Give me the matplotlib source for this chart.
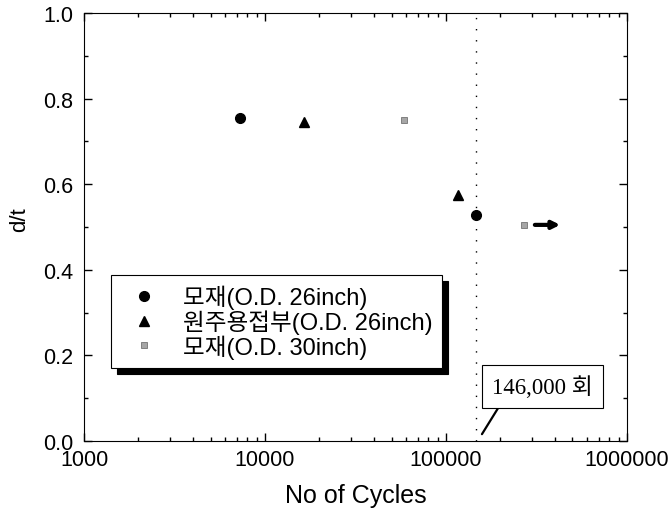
import matplotlib
matplotlib.use("Agg")
import matplotlib.pyplot as plt
from matplotlib.ticker import FixedLocator, MultipleLocator, LogLocator, NullFormatter
import numpy as np

plt.rcParams['font.family'] = ['Liberation Sans', 'Noto Sans CJK KR']

# data
base26_x = [7300, 146000]
base26_y = [0.755, 0.528]
weld26_x = [16500, 116000]
weld26_y = [0.745, 0.575]
base30_x = [58600, 270000]
base30_y = [0.750, 0.505]
labels = ['모재(O.D. 26inch)', '원주용접부(O.D. 26inch)', '모재(O.D. 30inch)']
limit_cycles = 146000
arrow_from = 299000
arrow_to = 443000

fig = plt.figure(figsize=(6.71, 5.10), dpi=100)
ax = fig.add_axes([0.1252, 0.1333, 0.8092, 0.8392])

ax.plot(base26_x, base26_y, 'o', color='black', ms=7, label=labels[0], linestyle='none')
ax.plot(weld26_x, weld26_y, '^', color='black', ms=7.5, label=labels[1], linestyle='none')
ax.plot(base30_x, base30_y, 's', color='0.65', ms=4.5, mec='0.45', mew=0.6, label=labels[2], linestyle='none')

ax.axvline(limit_cycles, color='black', lw=1, ls=(0, (1, 7)))
ax.annotate('', xy=(arrow_to, base30_y[1]), xytext=(arrow_from, base30_y[1]),
            arrowprops=dict(arrowstyle='-|>', color='black', lw=3, mutation_scale=11))

# callout for the 146,000 cycle limit
ax.annotate('', xy=(158000, 0.016), xytext=(198700, 0.084),
            arrowprops=dict(arrowstyle='-', color='black', lw=1.6, shrinkA=0, shrinkB=0))
ax.text(341000, 0.128, '146,000 회', ha='center', va='center', fontsize=16.5,
        family=['Liberation Serif', 'Noto Sans CJK KR'],
        bbox=dict(boxstyle='square,pad=0.45', fc='white', ec='black', lw=0.8))

ax.set_xscale('log')
ax.set_xlim(1000, 1000000)
ax.set_ylim(0, 1.0)
ax.xaxis.set_major_locator(FixedLocator([1000, 10000, 100000, 1000000]))
ax.set_xticklabels(['1000', '10000', '100000', '1000000'])
ax.xaxis.set_minor_locator(LogLocator(base=10, subs=np.arange(2, 10)))
ax.xaxis.set_minor_formatter(NullFormatter())
ax.yaxis.set_major_locator(MultipleLocator(0.2))
ax.yaxis.set_minor_locator(MultipleLocator(0.1))
ax.tick_params(which='both', direction='in', top=True, right=True, labelsize=15.5)
ax.tick_params(which='major', length=6, width=1)
ax.tick_params(which='minor', length=3, width=1)
ax.tick_params(axis='x', pad=6)
ax.tick_params(axis='y', pad=8)

ax.set_xlabel('No of Cycles', fontsize=18, labelpad=9)
ax.set_ylabel('d/t', fontsize=16)
ax.yaxis.set_label_coords(-0.1, 0.52)

leg = ax.legend(loc='upper left', bbox_to_anchor=(0.05, 0.388), borderaxespad=0,
                fontsize=17, frameon=True, fancybox=False, handletextpad=0.65,
                labelspacing=0.02, borderpad=0.4, handlelength=2.0,
                shadow={'color': 'black', 'alpha': 1, 'ox': 4, 'oy': -4.5})
leg.get_frame().set_edgecolor('black')
leg.get_frame().set_linewidth(0.8)

fig.savefig('out.png', dpi=100)
